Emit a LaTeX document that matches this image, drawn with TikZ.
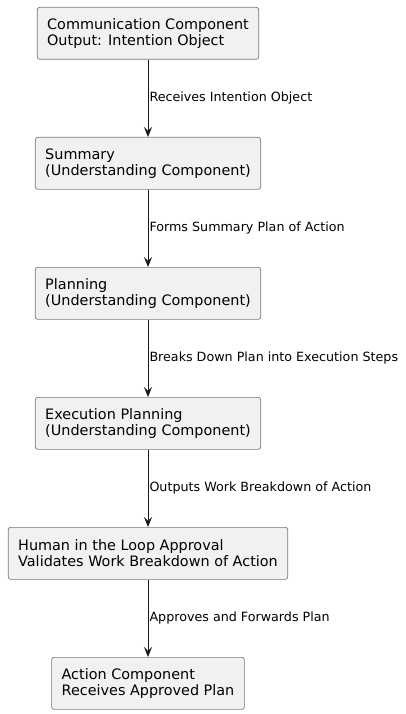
\documentclass[tikz,border=0pt]{standalone}
\usepackage{fontspec}
\setmainfont{DejaVu Sans}
\usetikzlibrary{positioning,arrows.meta}
\definecolor{boxfill}{HTML}{F1F1F1}
\definecolor{boxline}{HTML}{777777}
\definecolor{flowline}{HTML}{181818}
\tikzset{
  stage/.style={draw=boxline, fill=boxfill, line width=0.7pt, rounded corners=2.5pt,
    align=left, inner xsep=10pt, inner ysep=0pt, minimum height=52pt,
    font=\fontsize{14.4}{16.3}\selectfont},
  flow/.style={-{Stealth[length=10pt,width=8pt,inset=4pt]}, line width=1pt, draw=flowline},
  lbl/.style={right, inner xsep=1pt, font=\fontsize{12.7}{15}\selectfont}
}
\begin{document}
\begin{tikzpicture}[x=1pt, y=-1pt, node distance=77.3pt]
  \useasboundingbox (0,0) rectangle (406,714);
  % stages
  \node [stage, anchor=north] (comm) at (148,7) {Communication Component\\Output: Intention Object};
  \node [stage, below=of comm] (summ) {Summary\\(Understanding Component)};
  \node [stage, below=of summ] (plan) {Planning\\(Understanding Component)};
  \node [stage, below=of plan] (exec) {Execution Planning\\(Understanding Component)};
  \node [stage, below=of exec] (human) {Human in the Loop Approval\\Validates Work Breakdown of Action};
  \node [stage, below=of human] (action) {Action Component\\Receives Approved Plan};
  % flow
  \draw [flow] (comm) -- node [lbl] {Receives Intention Object} (summ);
  \draw [flow] (summ) -- node [lbl] {Forms Summary Plan of Action} (plan);
  \draw [flow] (plan) -- node [lbl] {Breaks Down Plan into Execution Steps} (exec);
  \draw [flow] (exec) -- node [lbl] {Outputs Work Breakdown of Action} (human);
  \draw [flow] (human) -- node [lbl] {Approves and Forwards Plan} (action);
\end{tikzpicture}
\end{document}
